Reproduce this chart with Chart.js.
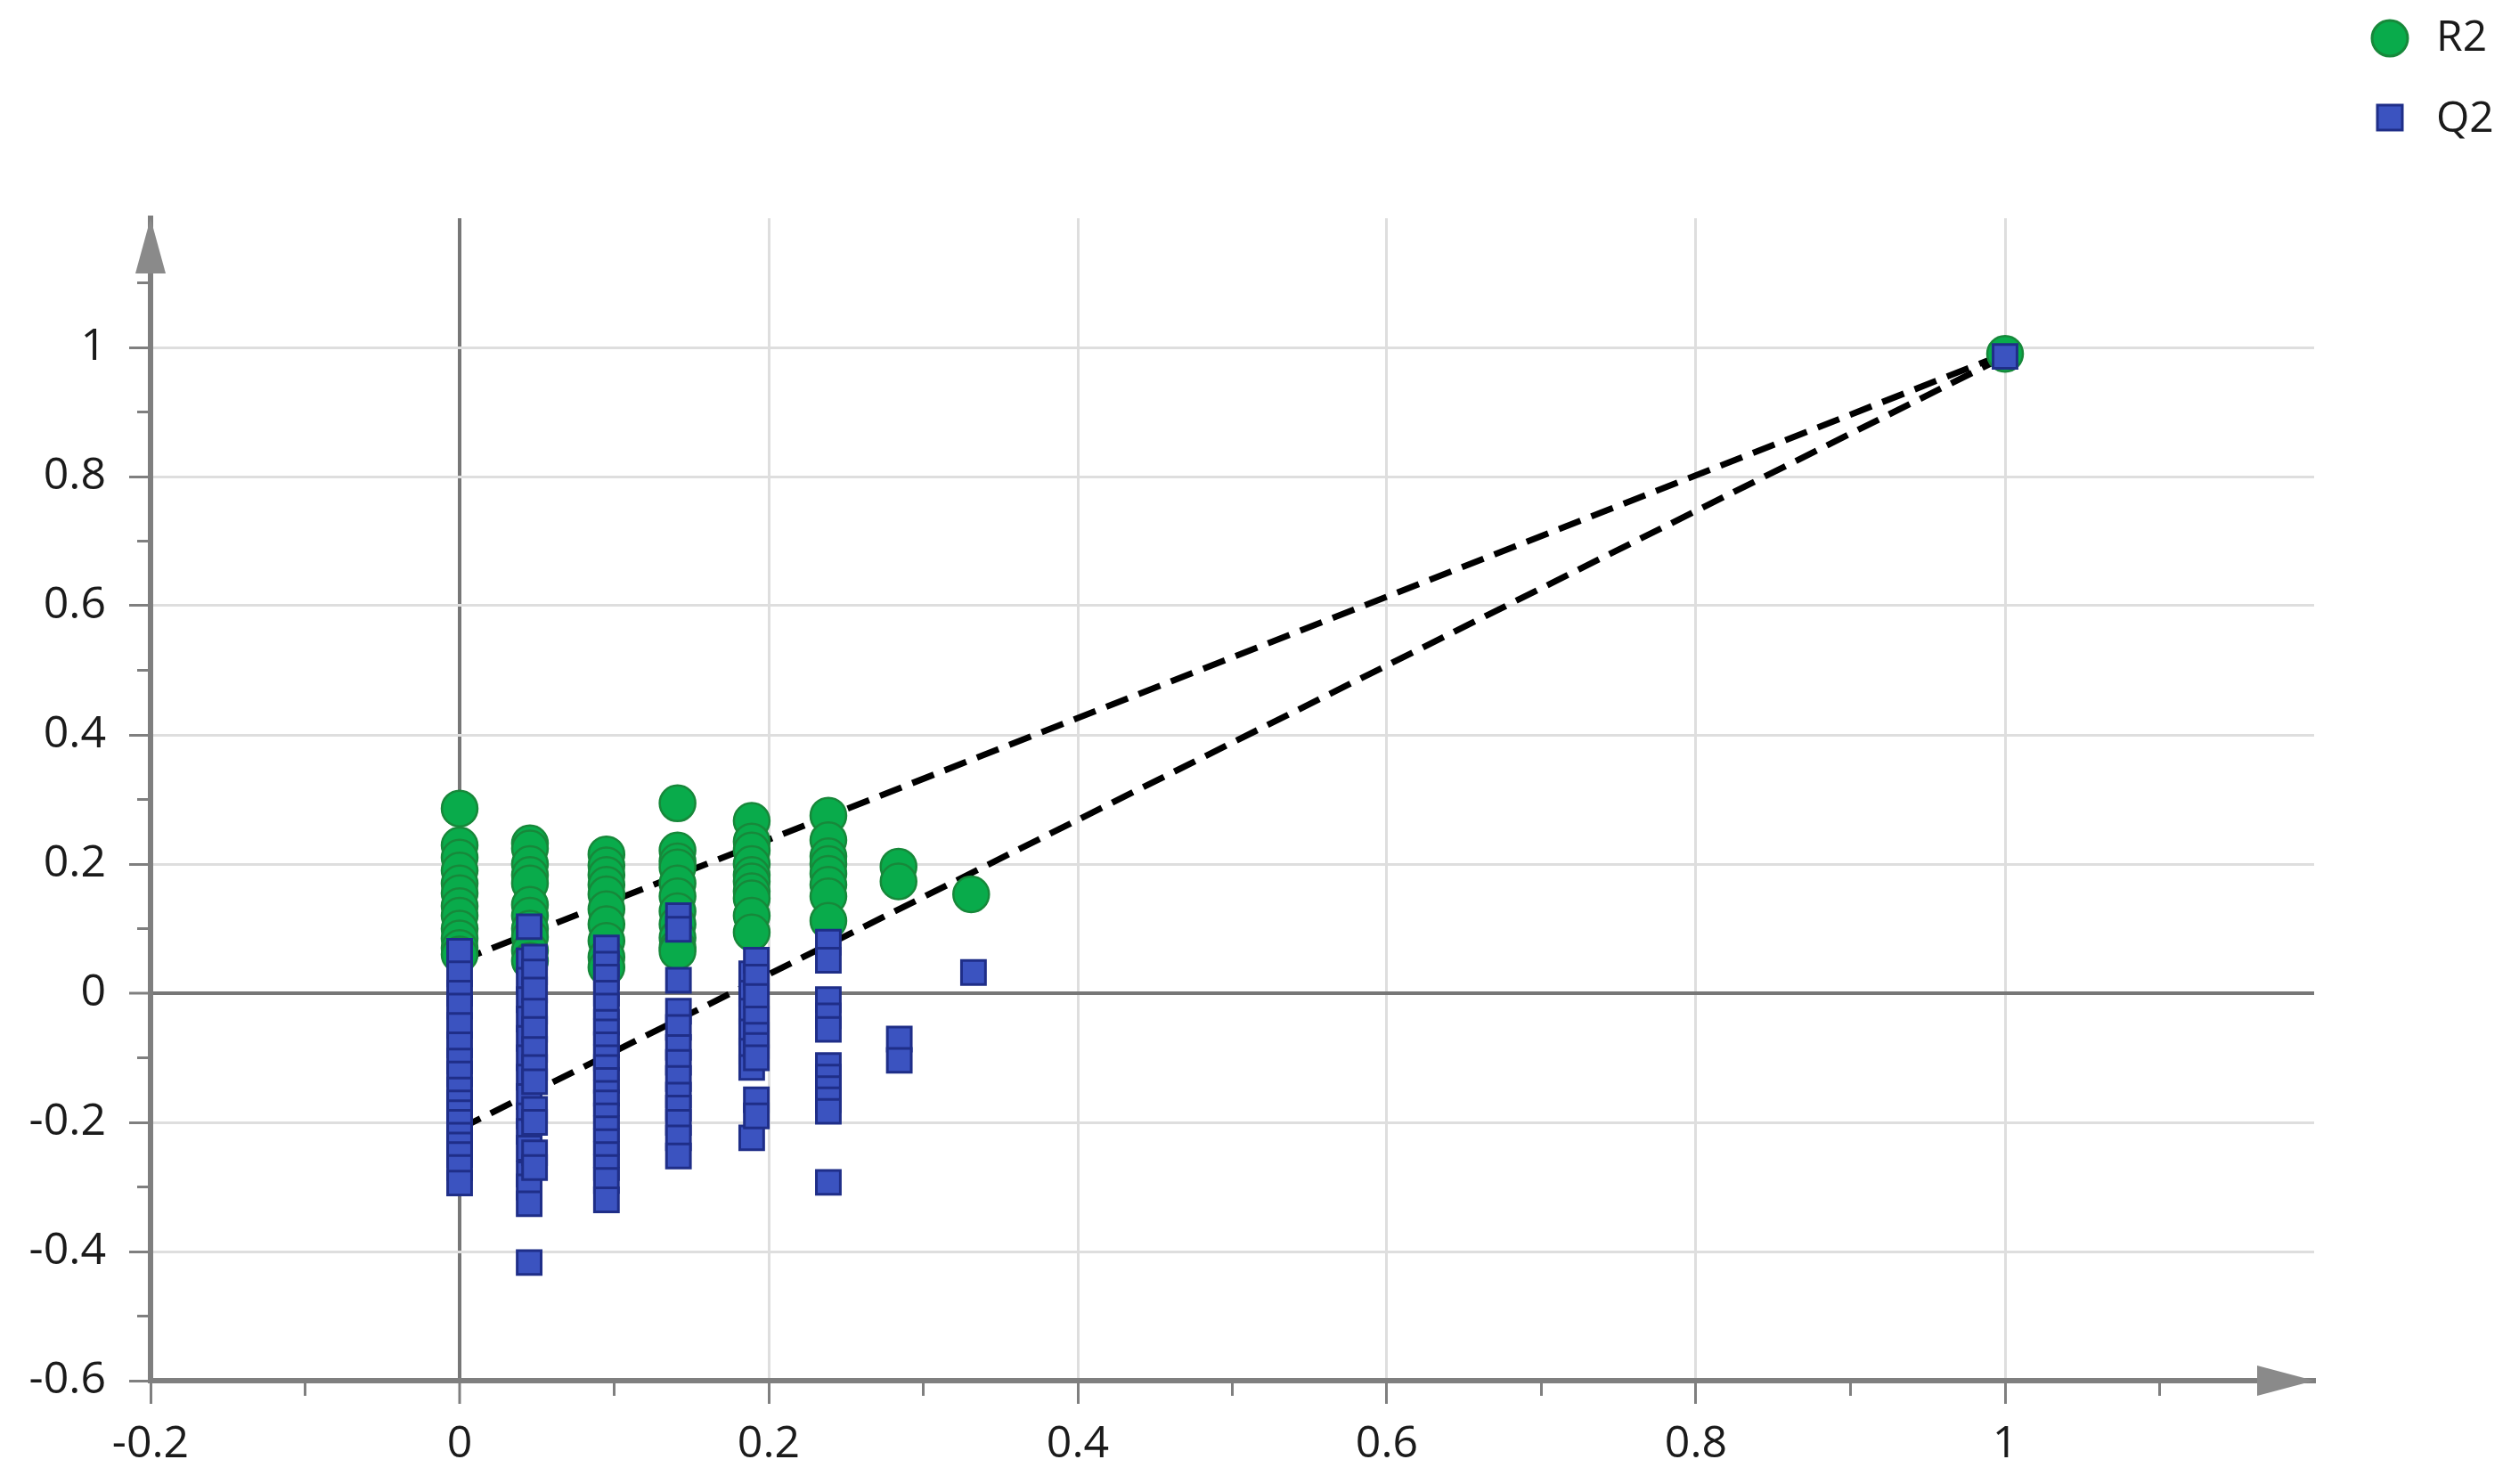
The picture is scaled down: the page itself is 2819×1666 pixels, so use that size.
<!DOCTYPE html>
<html>
<head>
<meta charset="utf-8">
<script src="https://cdn.jsdelivr.net/npm/chart.js@4.4.1/dist/chart.umd.min.js"></script>
<style>
  html, body { margin: 0; padding: 0; background: #fff; }
  #wrap { width: 2819px; height: 1666px; position: relative; }
</style>
</head>
<body>
<div id="wrap"><canvas id="perm"></canvas></div>
<script>
// correlation (x) of each permutation column, and the R2 / Q2 values read in that column
const r2ColX = [0, 0.0455, 0.095, 0.141, 0.189, 0.2386, 0.2840, 0.331, 1];
const r2Cols = [
  [0.286, 0.229, 0.21, 0.19, 0.17, 0.155, 0.135, 0.12, 0.1, 0.085, 0.07, 0.06],
  [0.232, 0.224, 0.2, 0.183, 0.17, 0.137, 0.12, 0.1, 0.087, 0.066, 0.05],
  [0.215, 0.198, 0.183, 0.168, 0.153, 0.13, 0.107, 0.081, 0.056, 0.04],
  [0.294, 0.221, 0.204, 0.195, 0.17, 0.15, 0.127, 0.107, 0.086, 0.071, 0.065],
  [0.267, 0.235, 0.221, 0.2, 0.183, 0.173, 0.158, 0.147, 0.12, 0.094],
  [0.275, 0.237, 0.212, 0.2, 0.185, 0.168, 0.15, 0.112],
  [0.196, 0.173],
  [0.153],
  [0.99]
];

const q2ColX = [0, 0.045, 0.0485, 0.095, 0.1416, 0.189, 0.192, 0.2386, 0.2845, 0.3325, 1];
const q2Cols = [
  [0.065, 0.03, 0.0, -0.02, -0.05, -0.08, -0.105, -0.125, -0.15, -0.17, -0.185, -0.2, -0.22, -0.235, -0.25, -0.27, -0.294],
  [0.103, 0.05, 0.02, -0.01, -0.04, -0.07, -0.1, -0.13, -0.16, -0.19, -0.214, -0.24, -0.28, -0.3, -0.326, -0.417],
  [0.056, 0.033, 0.005, -0.028, -0.056, -0.087, -0.115, -0.137, -0.18, -0.2, -0.247, -0.27],
  [0.07, 0.045, 0.025, 0.0, -0.02, -0.045, -0.06, -0.08, -0.1, -0.115, -0.135, -0.155, -0.17, -0.19, -0.21, -0.23, -0.25, -0.27, -0.29, -0.32],
  [0.12, 0.099, 0.02, -0.028, -0.053, -0.084, -0.107, -0.132, -0.158, -0.178, -0.2, -0.224, -0.252],
  [0.03, 0.0, -0.028, -0.06, -0.09, -0.115, -0.224],
  [0.051, 0.025, -0.005, -0.04, -0.065, -0.081, -0.1, -0.165, -0.19],
  [0.079, 0.051, -0.01, -0.035, -0.056, -0.112, -0.13, -0.148, -0.165, -0.183, -0.293],
  [-0.071, -0.104],
  [0.032],
  [0.986]
];

// regression lines (intercept at x = 0, end at the original model)
const lineX = [0, 1];
const r2LineY = [0.05, 0.99];
const q2LineY = [-0.21, 0.986];

const xTicksMinor = [-0.1, 0.1, 0.3, 0.5, 0.7, 0.9, 1.1];
const yTicksMinor = [-0.5, -0.3, -0.1, 0.1, 0.3, 0.5, 0.7, 0.9, 1.1];

const GREEN = '#09ab4b', GREEN_EDGE = '#17883a';
const BLUE = '#3b53c0', BLUE_EDGE = '#1f2e88';
const AXIS = '#7f7f7f';
const FONT = '"Segoe UI", "Open Sans", sans-serif';

function toPoints(xs, cols) {
  const pts = [];
  cols.forEach((col, i) => col.forEach(v => pts.push({ x: xs[i], y: v })));
  return pts;
}
function linePoints(ys) {
  return lineX.map((x, i) => ({ x: x, y: ys[i] }));
}
const isZero = v => Math.abs(v) < 1e-9;
const fmt = v => {
  const r = Math.round(v * 10) / 10;
  return r === 0 ? '0' : String(r);
};

const extras = {
  id: 'extras',
  afterDraw(chart) {
    const ctx = chart.ctx;
    const xs = chart.scales.x, ys = chart.scales.y;
    const area = chart.chartArea;
    ctx.save();
    // minor ticks
    ctx.strokeStyle = AXIS;
    ctx.lineWidth = 3;
    yTicksMinor.forEach(v => {
      const py = ys.getPixelForValue(v);
      ctx.beginPath(); ctx.moveTo(area.left - 15, py); ctx.lineTo(area.left, py); ctx.stroke();
    });
    xTicksMinor.forEach(v => {
      const px = xs.getPixelForValue(v);
      ctx.beginPath(); ctx.moveTo(px, area.bottom); ctx.lineTo(px, area.bottom + 17); ctx.stroke();
    });
    // arrow heads
    ctx.fillStyle = '#8a8a8a';
    ctx.beginPath();
    ctx.moveTo(area.left, area.top);
    ctx.lineTo(area.left - 17, area.top + 62);
    ctx.lineTo(area.left + 17, area.top + 62);
    ctx.closePath(); ctx.fill();
    ctx.beginPath();
    ctx.moveTo(area.right, area.bottom);
    ctx.lineTo(area.right - 64, area.bottom - 17);
    ctx.lineTo(area.right - 64, area.bottom + 17);
    ctx.closePath(); ctx.fill();

    // legend
    const lx = chart.width - 136;
    ctx.font = '48px ' + FONT;
    ctx.textBaseline = 'middle';
    ctx.fillStyle = GREEN; ctx.strokeStyle = GREEN_EDGE; ctx.lineWidth = 3;
    ctx.beginPath(); ctx.arc(lx, 43, 20, 0, Math.PI * 2); ctx.fill(); ctx.stroke();
    ctx.fillStyle = BLUE; ctx.strokeStyle = BLUE_EDGE;
    ctx.fillRect(lx - 14, 118, 28, 28); ctx.strokeRect(lx - 14, 118, 28, 28);
    ctx.fillStyle = '#1a1a1a';
    ctx.fillText(chart.data.datasets[0].label, lx + 52, 43);
    ctx.fillText(chart.data.datasets[1].label, lx + 52, 134);
    ctx.restore();
  }
};

new Chart(document.getElementById('perm'), {
  type: 'scatter',
  data: {
    datasets: [
      {
        label: 'R2',
        data: toPoints(r2ColX, r2Cols),
        pointStyle: 'circle',
        pointRadius: 20,
        backgroundColor: GREEN,
        borderColor: GREEN_EDGE,
        borderWidth: 2.5,
        order: 1
      },
      {
        label: 'Q2',
        data: toPoints(q2ColX, q2Cols),
        pointStyle: 'rect',
        pointRadius: 19,
        backgroundColor: BLUE,
        borderColor: BLUE_EDGE,
        borderWidth: 3,
        order: 0
      },
      {
        label: 'R2 line',
        data: linePoints(r2LineY),
        showLine: true,
        pointRadius: 0,
        borderColor: '#000',
        borderWidth: 7,
        borderDash: [26, 13],
        order: 2
      },
      {
        label: 'Q2 line',
        data: linePoints(q2LineY),
        showLine: true,
        pointRadius: 0,
        borderColor: '#000',
        borderWidth: 7,
        borderDash: [26, 13],
        order: 2
      }
    ]
  },
  options: {
    responsive: true,
    maintainAspectRatio: false,
    animation: false,
    layout: { padding: { top: 245, right: 221, left: 0, bottom: 0 } },
    plugins: { legend: { display: false }, tooltip: { enabled: false } },
    scales: {
      x: {
        type: 'linear',
        min: -0.2,
        max: 1.2,
        afterBuildTicks: s => { s.ticks = s.ticks.filter(t => t.value < 1.19); },
        afterFit: s => { s.height = 116; },
        ticks: {
          stepSize: 0.2,
          padding: 16,
          color: '#1a1a1a',
          font: { family: FONT, size: 50 },
          maxRotation: 0,
          callback: v => fmt(v)
        },
        grid: {
          color: c => isZero(c.tick.value) ? '#777' : '#dedede',
          lineWidth: c => isZero(c.tick.value) ? 4 : 3,
          tickColor: AXIS,
          tickLength: 26,
          tickWidth: 3
        },
        border: { color: AXIS, width: 6 }
      },
      y: {
        type: 'linear',
        min: -0.6,
        max: 1.2,
        afterBuildTicks: s => { s.ticks = s.ticks.filter(t => t.value < 1.19); },
        afterFit: s => { s.width = 169; },
        ticks: {
          stepSize: 0.2,
          padding: 26,
          color: '#1a1a1a',
          font: { family: FONT, size: 50 },
          callback: v => fmt(v)
        },
        grid: {
          color: c => isZero(c.tick.value) ? '#777' : '#dedede',
          lineWidth: c => isZero(c.tick.value) ? 4 : 3,
          tickColor: AXIS,
          tickLength: 24,
          tickWidth: 3
        },
        border: { color: AXIS, width: 6 }
      }
    }
  },
  plugins: [extras]
});
</script>
</body>
</html>
